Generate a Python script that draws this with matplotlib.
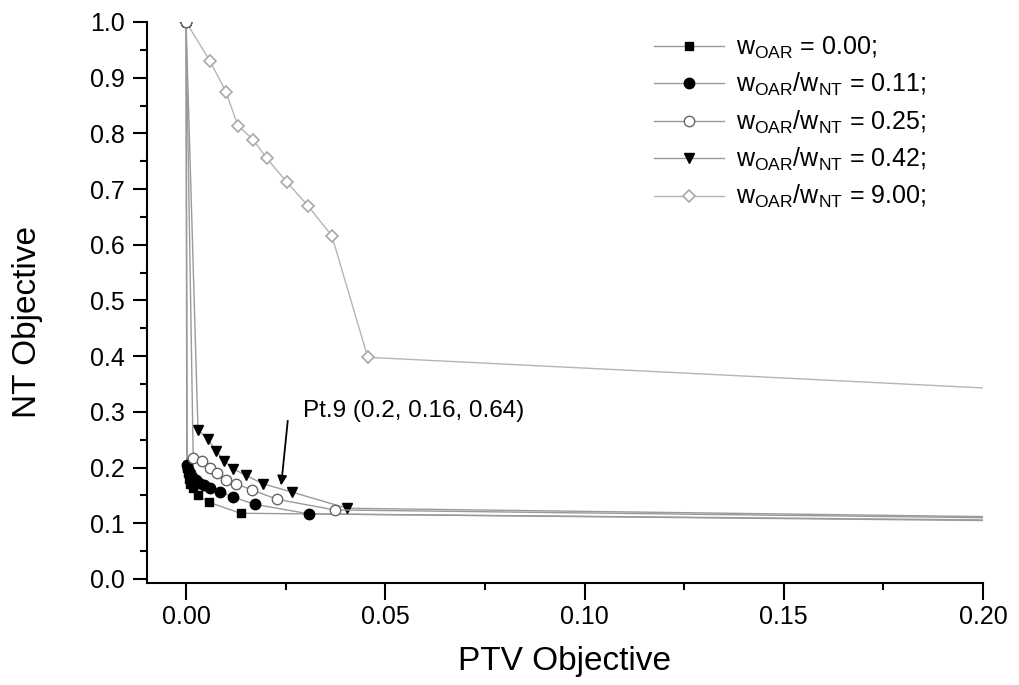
import matplotlib
matplotlib.use("Agg")
import matplotlib.pyplot as plt

plt.rcParams['font.family'] = ['Liberation Sans', 'DejaVu Sans']
plt.rcParams['mathtext.default'] = 'regular'

# Daten
x_000 = [0, 0.0002, 0.0004, 0.0007, 0.001, 0.0018, 0.003, 0.0058, 0.0137, 0.2]
y_000 = [1.0, 0.20, 0.19, 0.18, 0.17, 0.163, 0.15, 0.1375, 0.118, 0.105]

x_011 = [0, 0.0003, 0.0006, 0.001, 0.0016, 0.0024, 0.0033, 0.0045, 0.006, 0.0085, 0.0118, 0.0173, 0.0308, 0.2]
y_011 = [1.0, 0.205, 0.198, 0.19, 0.184, 0.178, 0.173, 0.168, 0.163, 0.157, 0.147, 0.134, 0.117, 0.106]

x_025 = [0, 0.0018, 0.004, 0.006, 0.0078, 0.010, 0.0125, 0.0165, 0.0229, 0.0373, 0.2]
y_025 = [1.0, 0.218, 0.2125, 0.2, 0.19, 0.178, 0.171, 0.16, 0.143, 0.124, 0.11]

x_042 = [0, 0.003, 0.0055, 0.0075, 0.0095, 0.0118, 0.015, 0.0193, 0.0266, 0.0404, 0.2]
y_042 = [1.0, 0.267, 0.251, 0.23, 0.2125, 0.198, 0.186, 0.171, 0.156, 0.127, 0.112]

x_900 = [0, 0.006, 0.010, 0.013, 0.0168, 0.0203, 0.0253, 0.0306, 0.0366, 0.0456, 0.2]
y_900 = [1.0, 0.930, 0.875, 0.814, 0.789, 0.755, 0.7125, 0.67, 0.616, 0.398, 0.343]

labels = [r'w$_{OAR}$ = 0.00;',
          r'w$_{OAR}$/w$_{NT}$ = 0.11;',
          r'w$_{OAR}$/w$_{NT}$ = 0.25;',
          r'w$_{OAR}$/w$_{NT}$ = 0.42;',
          r'w$_{OAR}$/w$_{NT}$ = 9.00;']

pt9_text = 'Pt.9 (0.2, 0.16, 0.64)'

fig = plt.figure(figsize=(10.2, 6.85), dpi=100)
ax = fig.add_axes([0.1441, 0.1489, 0.8196, 0.819])

lc = '#9a9a9a'
me = slice(0, -1)  # letzter Punkt liegt am Rand, ohne Marker
ax.plot(x_900, y_900, color='#b5b5b5', lw=1, marker='D', ms=6, mfc='white', mec='#a8a8a8', mew=1.2,
        markevery=me, label=labels[4], zorder=2)
ax.plot(x_000, y_000, color=lc, lw=1, marker='s', ms=6, mfc='black', mec='black',
        markevery=me, label=labels[0], zorder=3)
ax.plot(x_011, y_011, color=lc, lw=1, marker='o', ms=7.5, mfc='black', mec='black',
        markevery=me, label=labels[1], zorder=3)
ax.plot(x_025, y_025, color=lc, lw=1, marker='o', ms=7.5, mfc='white', mec='#666666', mew=1,
        markevery=me, label=labels[2], zorder=4)
ax.plot(x_042, y_042, color=lc, lw=1, marker='v', ms=7.5, mfc='black', mec='black',
        markevery=me, label=labels[3], zorder=3)

# Legende in Originalreihenfolge
h, l = ax.get_legend_handles_labels()
order = [1, 2, 3, 4, 0]
leg = ax.legend([h[i] for i in order], [l[i] for i in order], loc='upper left',
                bbox_to_anchor=(0.592, 1.0), frameon=False, fontsize=18,
                handlelength=2.8, handletextpad=0.45, labelspacing=0.41, borderpad=0)

ax.annotate('', xy=(0.0238, 0.163), xytext=(0.0256, 0.289),
            arrowprops=dict(arrowstyle='-|>', color='black', lw=1.3, mutation_scale=14))
ax.text(0.0293, 0.302, pt9_text, fontsize=17.5, va='center', ha='left')

ax.set_xlim(-0.0098, 0.2)
ax.set_ylim(-0.0072, 1.0)
ax.set_xticks([0, 0.05, 0.10, 0.15, 0.20])
ax.set_xticks([0.025, 0.075, 0.125, 0.175], minor=True)
ax.set_yticks([i / 10 for i in range(11)])
ax.set_yticks([0.05 + i / 10 for i in range(10)], minor=True)
ax.set_xticklabels(['0.00', '0.05', '0.10', '0.15', '0.20'])
ax.set_yticklabels([f'{i / 10:.1f}' for i in range(11)])

for s in ['top', 'right']:
    ax.spines[s].set_visible(False)
for s in ['left', 'bottom']:
    ax.spines[s].set_linewidth(1.5)

ax.tick_params(which='major', direction='out', length=10, width=1.5, labelsize=18, pad=6)
ax.tick_params(which='minor', direction='out', length=5, width=1.5)
ax.tick_params(axis='x', which='major', length=12, pad=4)

ax.set_xlabel('PTV Objective', fontsize=24, labelpad=12)
ax.set_ylabel('NT Objective', fontsize=24)
ax.yaxis.set_label_coords(-0.124, 0.465)

fig.savefig('out.png', dpi=100)
